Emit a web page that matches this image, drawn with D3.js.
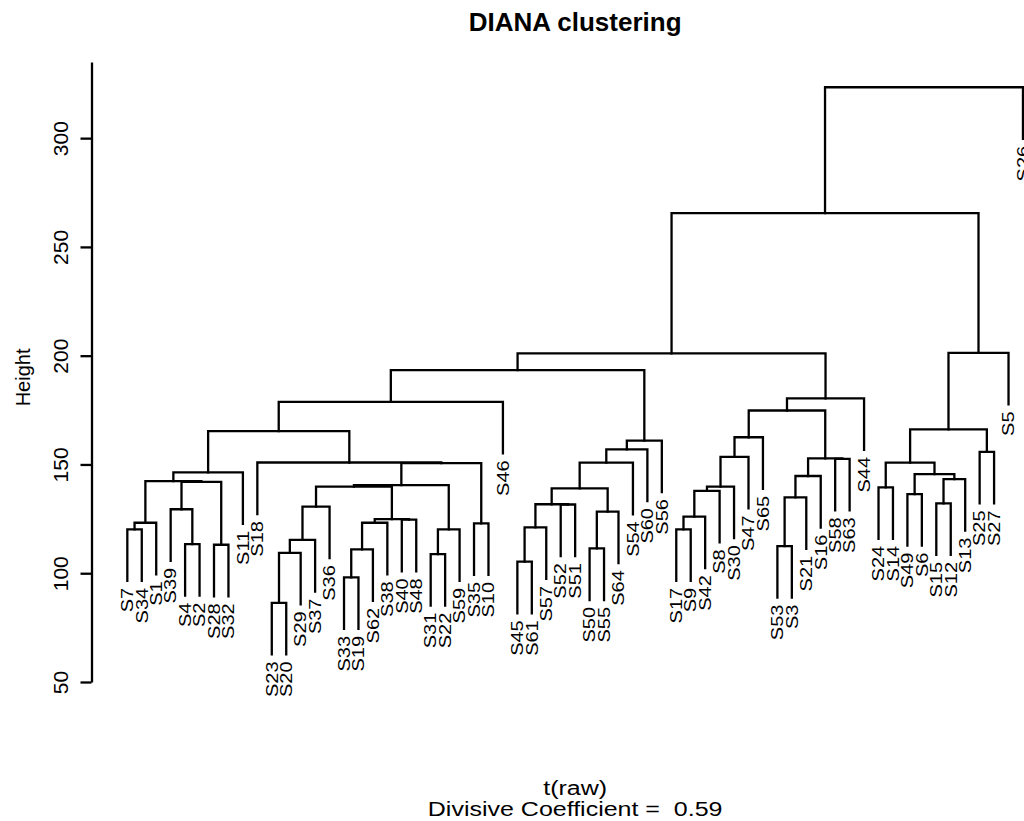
<!DOCTYPE html>
<html>
<head>
<meta charset="utf-8">
<script src="https://cdn.jsdelivr.net/npm/d3@7"></script>
<style>
  html, body { margin: 0; padding: 0; background: #fff; }
  svg text { font-family: "Liberation Sans", Arial, Helvetica, sans-serif; fill: #000; }
</style>
</head>
<body>
<svg id="chart" width="1024" height="821"></svg>
<script>
// Leaf labels, left to right as drawn
const leaves = ["S7","S34","S1","S39","S4","S2","S28","S32","S11","S18",
  "S23","S20","S29","S37","S36","S33","S19","S62","S38","S40","S48",
  "S31","S22","S59","S35","S10","S46","S45","S61","S57","S52","S51",
  "S50","S55","S64","S54","S60","S56","S17","S9","S42","S8","S30",
  "S47","S65","S53","S3","S21","S16","S58","S63","S44","S24","S14",
  "S49","S6","S15","S12","S13","S25","S27","S5","S26"];

// Merge steps: a string is a leaf, a number is an earlier step (1-based)
const merges = [
  ["S7","S34"], [1,"S1"], ["S4","S2"], ["S39",3], ["S28","S32"],
  [4,5], [2,6], [7,"S11"], ["S23","S20"], [9,"S29"],
  [10,"S37"], [11,"S36"], ["S33","S19"], [13,"S62"], [14,"S38"],
  ["S40","S48"], [15,16], ["S31","S22"], [18,"S59"], ["S35","S10"],
  [12,17], [21,19], [22,20], ["S18",23], [8,24],
  [25,"S46"], ["S45","S61"], [27,"S57"], ["S52","S51"], [28,29],
  ["S50","S55"], [31,"S64"], [30,32], [33,"S54"], [34,"S60"],
  [35,"S56"], [26,36], ["S17","S9"], [38,"S42"], [39,"S8"],
  [40,"S30"], [41,"S47"], [42,"S65"], ["S53","S3"], [44,"S21"],
  [45,"S16"], ["S58","S63"], [46,47], [43,48], [49,"S44"],
  [37,50], ["S24","S14"], ["S49","S6"], ["S15","S12"], [54,"S13"],
  [53,55], [52,56], ["S25","S27"], [57,58], [59,"S5"],
  [51,60], [61,"S26"]
];

// Height of each merge step
const heights = [
  120.2, 123.2, 113.4, 129.4, 113.1,
  142.0, 142.3, 146.4, 86.4, 109.4,
  115.3, 130.6, 98.1, 111.0, 123.2,
  124.6, 124.9, 108.8, 120.2, 122.9,
  139.8, 140.5, 150.6, 150.9, 165.3,
  178.8, 105.3, 121.1, 131.6, 131.7,
  111.4, 128.3, 139.0, 150.8, 156.9,
  161.0, 193.4, 120.2, 126.0, 137.9,
  139.8, 153.5, 162.5, 112.5, 134.9,
  144.7, 152.6, 152.8, 174.8, 180.4,
  201.1, 139.5, 136.4, 132.1, 143.3,
  145.6, 150.8, 155.8, 166.1, 201.3,
  265.5, 323.4
];

const yTicks = [50, 100, 150, 200, 250, 300];
const title = "DIANA clustering";
const xLabel = "t(raw)";
const subLabel = "Divisive Coefficient =  0.59";
const yLabel = "Height";

const svg = d3.select("#chart");
const n = leaves.length;
const pad = 0.04 * (n - 1);

const x = d3.scaleLinear().domain([1 - pad, n + pad]).range([91.5, 1058.8]);
const y = d3.scaleLinear().domain([50, 335]).range([682, 62]);

const hang = 0.1 * (d3.max(heights) - d3.min(heights));
const leafIndex = new Map(leaves.map((d, i) => [d, i + 1]));

// x centre of each merge = midpoint of its two children
const mergeX = [];
function nodeX(ref) {
  return typeof ref === "string" ? leafIndex.get(ref) : mergeX[ref - 1];
}
merges.forEach((m, i) => { mergeX[i] = (nodeX(m[0]) + nodeX(m[1])) / 2; });

const g = svg.append("g");
const leafBottoms = [];

merges.forEach((m, i) => {
  const h = heights[i];
  const ends = m.map(ref => {
    if (typeof ref === "string") {
      leafBottoms.push({ label: ref, xi: leafIndex.get(ref), h: h - hang });
      return { xi: leafIndex.get(ref), h: h - hang };
    }
    return { xi: mergeX[ref - 1], h: heights[ref - 1] };
  });
  const path = d3.path();
  path.moveTo(x(ends[0].xi), y(ends[0].h));
  path.lineTo(x(ends[0].xi), y(h));
  path.lineTo(x(ends[1].xi), y(h));
  path.lineTo(x(ends[1].xi), y(ends[1].h));
  g.append("path")
    .attr("d", path.toString())
    .attr("fill", "none")
    .attr("stroke", "#000")
    .attr("stroke-width", 2.3)
    .attr("stroke-linejoin", "miter")
    .attr("stroke-linecap", "square");
});

// leaf labels, rotated to read upwards (slightly elongated glyphs)
g.selectAll("text.leaf")
  .data(leafBottoms)
  .join("text")
  .attr("class", "leaf")
  .attr("transform", d => `translate(${x(d.xi)},${y(d.h) + 7}) rotate(-90) scale(1.25,1)`)
  .attr("text-anchor", "end")
  .attr("dy", "0.36em")
  .style("font-size", "16px")
  .text(d => d.label);

// y axis
const axis = svg.append("g")
  .attr("transform", `translate(${x(1 - pad)},0)`)
  .call(d3.axisLeft(y).tickValues(yTicks).tickSize(11).tickSizeOuter(0).tickFormat(d3.format("d")));
axis.select(".domain").attr("stroke", "#000").attr("stroke-width", 2.3);
axis.selectAll(".tick line").attr("stroke", "#000").attr("stroke-width", 2.3);
axis.selectAll(".tick text")
  .attr("x", null).attr("dy", null)
  .attr("transform", "rotate(-90)")
  .attr("y", -24)
  .attr("text-anchor", "middle")
  .style("font-size", "21px")
  .style("font-family", "'Liberation Sans', Arial, sans-serif")
  .attr("fill", "#000");

svg.append("text")
  .attr("transform", `translate(30,${y(190)}) rotate(-90)`)
  .attr("text-anchor", "middle")
  .style("font-size", "20px")
  .text(yLabel);

const cx = (x(1 - pad) + x(n + pad)) / 2;
svg.append("text")
  .attr("x", cx).attr("y", 31)
  .attr("text-anchor", "middle")
  .style("font-size", "26px")
  .style("font-weight", "bold")
  .text(title);

svg.append("text")
  .attr("transform", `translate(${cx},795) scale(1.25,1)`)
  .attr("text-anchor", "middle")
  .style("font-size", "20px")
  .text(xLabel);

svg.append("text")
  .attr("transform", `translate(${cx},816) scale(1.25,1)`)
  .attr("text-anchor", "middle")
  .style("font-size", "20px")
  .style("white-space", "pre")
  .text(subLabel);
</script>
</body>
</html>
